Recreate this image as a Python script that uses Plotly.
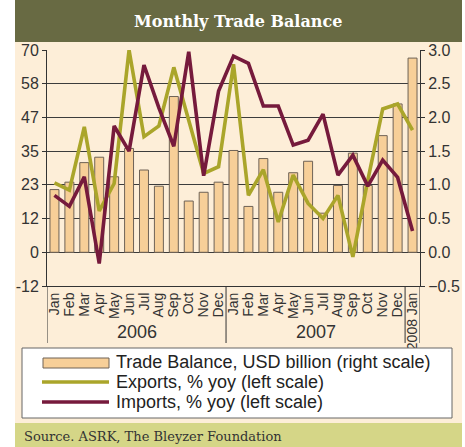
import plotly.graph_objects as go

W, H = 465, 447

# ---- data ----
categories = [f"2006-{m:02d}" for m in range(1, 13)] + [f"2007-{m:02d}" for m in range(1, 13)] + ["2008-01"]
month_labels = ["Jan", "Feb", "Mar", "Apr", "May", "Jun", "Jul", "Aug", "Sep", "Oct", "Nov", "Dec",
                "Jan", "Feb", "Mar", "Apr", "May", "Jun", "Jul", "Aug", "Sep", "Oct", "Nov", "Dec",
                "2008 Jan"]
trade_balance = [0.93, 1.04, 1.33, 1.41, 1.12, 1.54, 1.22, 0.98, 2.31, 0.76, 0.89, 1.04,
                 1.51, 0.68, 1.39, 0.89, 1.18, 1.35, 0.58, 0.99, 1.47, 0.99, 1.73, 2.20, 2.88]
exports = [24.0, 21.5, 43.4, 14.3, 23.8, 70.0, 40.0, 43.7, 64.0, 45.5, 27.3, 29.6,
           65.1, 19.7, 28.6, 10.5, 26.7, 16.9, 11.7, 19.7, -1.6, 24.9, 49.6, 51.3, 42.3]
imports = [19.7, 15.9, 26.1, -3.9, 43.7, 35.0, 64.8, 50.0, 36.7, 69.4, 26.5, 55.8,
           67.9, 65.4, 50.6, 50.6, 37.1, 38.8, 47.8, 26.7, 33.6, 22.9, 31.9, 25.9, 7.4]
left_tickvals = [-70 / 6, 0, 70 / 6, 70 / 3, 35, 140 / 3, 175 / 3, 70]
left_ticktext = ["-12", "0", "12", "23", "35", "47", "58", "70"]
right_tickvals = [-0.5, 0.0, 0.5, 1.0, 1.5, 2.0, 2.5, 3.0]
year_labels = ["2006", "2007"]
year_centers = [5.5, 17.5]
year_dividers = [-0.5, 11.5, 23.5, 24.5]
legend_labels = ["Trade Balance, USD billion (right scale)", "Exports, % yoy (left scale)",
                 "Imports, % yoy (left scale)"]

# ---- styling ----
C_TITLE = "#686a43"
C_BG = "#fdeed8"
C_SRC = "#d5d687"
C_BAR = "#f7cf98"
C_BAR_LINE = "#6e6256"
C_EXP = "#aaa52a"
C_IMP = "#761a3c"
C_AX = "#333333"
FONT = "Liberation Sans"


def px(x):
    return x / W


def py(y):
    return 1 - y / H


x_idx = list(range(len(categories)))

fig = go.Figure()
# bars on primary (right-hand) axis so the lines (overlay axis) draw on top
fig.add_trace(go.Bar(x=x_idx, y=trade_balance, yaxis="y", marker=dict(color=C_BAR, line=dict(color=C_BAR_LINE, width=1)),
                     showlegend=False))
fig.add_trace(go.Scatter(x=x_idx, y=exports, yaxis="y2", mode="lines", line=dict(color=C_EXP, width=3.6), showlegend=False))
fig.add_trace(go.Scatter(x=x_idx, y=imports, yaxis="y2", mode="lines", line=dict(color=C_IMP, width=3.6), showlegend=False))

top_px, bot_px = 50, 286
fig.update_layout(
    width=W, height=H,
    margin=dict(l=0, r=0, t=0, b=0, autoexpand=False),
    paper_bgcolor="white",
    plot_bgcolor="rgba(0,0,0,0)",
    bargap=0.4,
    font=dict(family=FONT, color=C_AX),
    xaxis=dict(domain=[px(47), px(420)], range=[-0.5, 24.5], tickvals=x_idx, ticktext=month_labels,
               tickangle=-90, tickfont=dict(size=14, color=C_AX), showgrid=False, zeroline=False,
               showline=True, linecolor=C_AX, linewidth=1, ticks="", fixedrange=True, automargin=False),
    yaxis=dict(domain=[py(bot_px), py(top_px)], side="right", range=[-0.5, 3.0], tickvals=right_tickvals,
               tickformat=".1f", tickfont=dict(size=16, color=C_AX), showgrid=True,
               gridcolor="#3c3c3c", gridwidth=1, zeroline=False, showline=True, linecolor=C_AX,
               linewidth=1, ticks="outside", ticklen=4, tickcolor=C_AX, automargin=False),
    yaxis2=dict(overlaying="y", side="left", range=[-70 / 6, 70], tickvals=left_tickvals,
                ticktext=left_ticktext, tickfont=dict(size=16, color=C_AX), showgrid=False, zeroline=False,
                showline=True, linecolor=C_AX, linewidth=1, ticks="outside", ticklen=4, tickcolor=C_AX,
                automargin=False),
)

shapes = []
# backgrounds
shapes.append(dict(type="rect", xref="paper", yref="paper", x0=px(15), x1=px(462), y0=py(423), y1=py(42),
                   fillcolor=C_BG, line=dict(width=0), layer="below"))
shapes.append(dict(type="rect", xref="paper", yref="paper", x0=px(15), x1=px(462), y0=py(42), y1=py(0),
                   fillcolor=C_TITLE, line=dict(width=0), layer="below"))
shapes.append(dict(type="rect", xref="paper", yref="paper", x0=px(15), x1=px(462), y0=py(447), y1=py(423),
                   fillcolor=C_SRC, line=dict(width=0), layer="below"))
# year dividers
for xv in year_dividers:
    shapes.append(dict(type="line", xref="x", yref="paper", x0=xv, x1=xv, y0=py(bot_px), y1=py(343),
                       line=dict(color=C_AX, width=1)))
# legend box
shapes.append(dict(type="rect", xref="paper", yref="paper", x0=px(22), x1=px(452), y0=py(418), y1=py(348),
                   fillcolor="white", line=dict(color="#666666", width=1)))
shapes.append(dict(type="rect", xref="paper", yref="paper", x0=px(43), x1=px(109), y0=py(368), y1=py(358),
                   fillcolor=C_BAR, line=dict(color=C_BAR_LINE, width=1)))
shapes.append(dict(type="line", xref="paper", yref="paper", x0=px(42), x1=px(109), y0=py(382), y1=py(382),
                   line=dict(color=C_EXP, width=3.6)))
shapes.append(dict(type="line", xref="paper", yref="paper", x0=px(42), x1=px(109), y0=py(402), y1=py(402),
                   line=dict(color=C_IMP, width=3.6)))
fig.update_layout(shapes=shapes)

ann = []
ann.append(dict(text="<b>Monthly Trade Balance</b>", xref="paper", yref="paper", x=px(238), y=py(21),
                showarrow=False, font=dict(family="DejaVu Serif", size=16, color="white"),
                xanchor="center", yanchor="middle"))
for lab, xc in zip(year_labels, year_centers):
    ann.append(dict(text=lab, xref="x", yref="paper", x=xc, y=py(332), showarrow=False,
                    font=dict(size=18, color=C_AX), xanchor="center", yanchor="middle"))
for lab, yy in zip(legend_labels, [362, 382, 402]):
    ann.append(dict(text=lab, xref="paper", yref="paper", x=px(114), y=py(yy), showarrow=False,
                    font=dict(size=18, color="#222222"), xanchor="left", yanchor="middle"))
ann.append(dict(text="Source. ASRK, The Bleyzer Foundation", xref="paper", yref="paper", x=px(22), y=py(436),
                showarrow=False, font=dict(family="DejaVu Serif", size=13, color="#333333"),
                xanchor="left", yanchor="middle"))
fig.update_layout(annotations=ann)

fig.write_html("out.html")
